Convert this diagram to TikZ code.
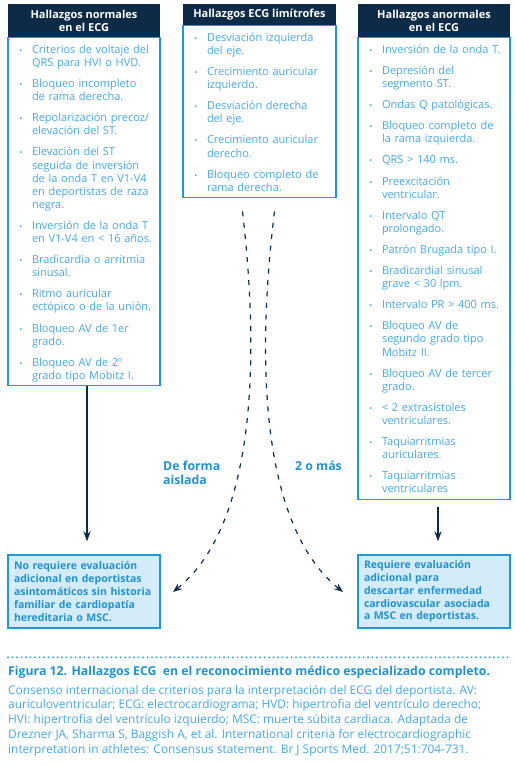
\documentclass[tikz,border=0pt]{standalone}
\usepackage{fontspec}
\setmainfont{Open Sans}
\usepackage{enumitem}
\usetikzlibrary{positioning,arrows.meta}

\definecolor{navy}{HTML}{0D2A47}
\definecolor{edgeblue}{HTML}{1B9AD6}
\definecolor{itemblue}{HTML}{46A8E5}
\definecolor{paleblue}{HTML}{D4ECFA}
\definecolor{darkblue}{HTML}{1F92D4}

\newlist{findings}{itemize}{1}
\setlist[findings]{label={\footnotesize\textbullet}, leftmargin=18pt, labelsep=9.5pt,
  rightmargin=-6pt, itemsep=8pt, parsep=0pt, topsep=0pt, partopsep=0pt}
\newcommand{\firstline}{\rule{0pt}{13pt}}

\tikzset{
  header/.style={fill=navy, text=white, font=\bfseries\fontsize{11}{12.3}\selectfont,
    minimum width=152pt, minimum height=#1, align=center, inner sep=0pt},
  findbox/.style={draw=edgeblue, line width=1.2pt, text=itemblue, text width=140pt,
    inner xsep=6pt, inner ysep=2.5pt, font=\fontsize{11}{13.1}\selectfont,
    align=left, below=0pt of #1},
  verdict/.style={draw=edgeblue, line width=1.2pt, fill=paleblue, text=darkblue,
    text width=140pt, inner xsep=6pt, minimum height=73pt,
    font=\bfseries\fontsize{10.5}{12.8}\selectfont, align=left},
  countlabel/.style={text=darkblue, font=\bfseries\fontsize{12.3}{14.5}\selectfont,
    align=left, inner sep=0pt, anchor=base west},
  flow/.style={draw=navy, line width=2pt, -{Stealth[length=10pt,width=7pt,inset=3pt]},
    shorten >=13pt},
  fork/.style={draw=navy, line width=1.2pt, dash pattern=on 5pt off 6.5pt,
    -{Stealth[length=9pt,width=7pt,inset=3pt]}}
}

\begin{document}
\begin{tikzpicture}[x=1pt, y=-1pt]
    \useasboundingbox (0,0) rectangle (516,765);

    % LEFT: normal findings
        \node[header=32.5pt] (hdrNormal) at (84,20.75) {Hallazgos normales\\en el ECG};
        \node[findbox=hdrNormal] (lstNormal) {%
            \begin{findings}
                \item\firstline Criterios de voltaje del\\QRS para HVI o HVD.
                \item Bloqueo incompleto\\de rama derecha.
                \item Repolarización precoz/\\elevación del ST.
                \item Elevación del ST\\seguida de inversión\\de la onda T en V1-V4\\en deportistas de raza\\negra.
                \item Inversión de la onda T\\en V1-V4 en < 16 años.
                \item Bradicardia o arritmia\\sinusal.
                \item Ritmo auricular\\ectópico o de la unión.
                \item Bloqueo AV de 1er\\grado.
                \item Bloqueo AV de 2º\\grado tipo Mobitz I.\strut
            \end{findings}};

    % MIDDLE: borderline findings
        \node[header=20.5pt, minimum width=153pt] (hdrBorder) at (259.5,14.75) {Hallazgos ECG limítrofes};
        \node[findbox=hdrBorder, text width=141pt] (lstBorder) {%
            \begin{findings}
                \item\firstline Desviación izquierda\\del eje.
                \item Crecimiento auricular\\izquierdo.
                \item Desviación derecha\\del eje.
                \item Crecimiento auricular\\derecho.
                \item Bloqueo completo de\\rama derecha.\strut
            \end{findings}};

    % RIGHT: abnormal findings
        \node[header=32.5pt] (hdrAbnormal) at (434,20.75) {Hallazgos anormales\\en el ECG};
        \node[findbox=hdrAbnormal] (lstAbnormal) {%
            \begin{findings}
                \item\firstline Inversión de la onda T.
                \item Depresión del\\segmento ST.
                \item Ondas Q patológicas.
                \item Bloqueo completo de\\la rama izquierda.
                \item QRS > 140 ms.
                \item Preexcitación\\ventricular.
                \item Intervalo QT\\prolongado.
                \item Patrón Brugada tipo I.
                \item Bradicardial sinusal\\grave < 30 lpm.
                \item Intervalo PR > 400 ms.
                \item Bloqueo AV de\\segundo grado tipo\\Mobitz II.
                \item Bloqueo AV de tercer\\grado.
                \item < 2 extrasístoles\\ventriculares.
                \item Taquiarritmias\\auriculares.
                \item Taquiarritmias\\ventriculares\strut
            \end{findings}};

    % Outcomes
        \node[verdict] (resNormal) at (84,591.5) {No requiere evaluación\\adicional en deportistas\\asintomáticos sin historia\\familiar de cardiopatía\\hereditaria o MSC.};
        \node[verdict] (resAbnormal) at (434,591.5) {Requiere evaluación\\adicional para\\descartar enfermedad\\cardiovascular asociada\\a MSC en deportistas.};

    % Straight arrows
        \draw[flow] ([xshift=3pt]lstNormal.south) -- ([xshift=3pt]resNormal.north);
        \draw[flow, shorten <=7pt] ([xshift=4pt]lstAbnormal.south) -- ([xshift=4pt]resAbnormal.north);

    % Borderline: isolated or two or more
        \coordinate[below left=13pt and 17pt of lstBorder.south] (forkL);
        \coordinate[below right=13pt and 15pt of lstBorder.south] (forkR);
        \coordinate (tipL) at (173,592);
        \coordinate (tipR) at (343,592);
        \draw[fork] (forkL) .. controls (262,380) and (250,530) .. (tipL);
        \draw[fork] (forkR) .. controls (254,380) and (266,530) .. (tipR);
        \node[countlabel] (lblSingle) at (163,484.5) {De forma\\aislada};
        \node[countlabel] (lblMulti) at (295,470) {2 o más};

    % Caption
        \draw[edgeblue, line width=2pt, line cap=round, dash pattern=on 0pt off 4.5pt] (8,657.3) -- (510,657.3);
        \node[anchor=base west, inner sep=0pt, text=darkblue, font=\bfseries\fontsize{12.3}{13}\selectfont] (figTitle) at (8,675.7)
            {Figura 12. Hallazgos ECG\ \ en el reconocimiento médico especializado completo.};
        \node[anchor=base west, inner sep=0pt, text=itemblue, align=left, font=\fontsize{11.9}{14.8}\selectfont] (figNote) at (8,753.3)
            {Consenso internacional de criterios para la interpretación del ECG del deportista. AV:\\
             auriculoventricular; ECG: electrocardiograma; HVD: hipertrofia del ventrículo derecho;\\
             HVI: hipertrofia del ventrículo izquierdo; MSC: muerte súbita cardiaca. Adaptada de\\
             Drezner JA, Sharma S, Baggish A, et al. International criteria for electrocardiographic\\
             interpretation in athletes: Consensus statement. Br J Sports Med. 2017;51:704-731.};
\end{tikzpicture}
\end{document}
